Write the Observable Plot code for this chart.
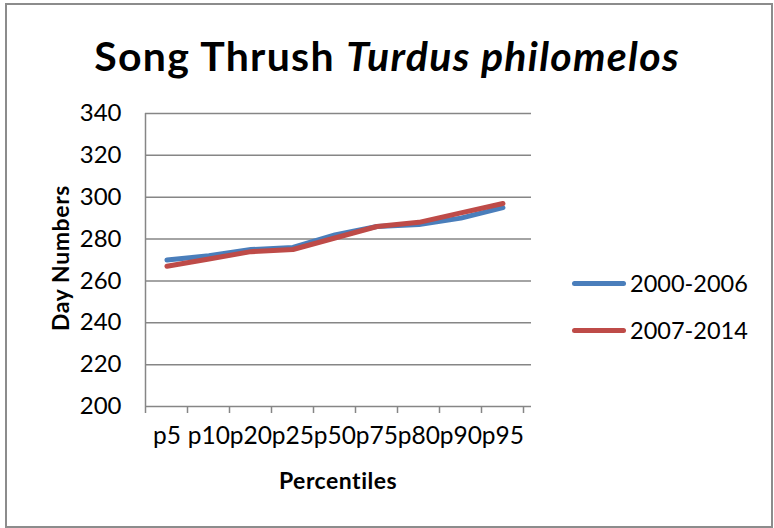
<!DOCTYPE html>
<html>
<head>
<meta charset="utf-8">
<script src="https://cdn.jsdelivr.net/npm/d3@7"></script>
<script src="https://cdn.jsdelivr.net/npm/@observablehq/plot@0.6"></script>
<style>
  html, body { margin: 0; padding: 0; background: #fff; }
  #wrap { position: relative; width: 774px; height: 528px; font-family: Lato, "Open Sans", sans-serif; color: #000; }
  #frame { position: absolute; left: 5px; top: 3px; width: 764px; height: 521px; border: 2px solid #8c8c8c; box-sizing: content-box; }
  #title { position: absolute; left: 0; width: 774px; top: 56px; transform: translateY(-50%); text-align: center; font-weight: bold; font-size: 41px; letter-spacing: 1.3px; line-height: 48px; white-space: nowrap; }
  #ytitle { position: absolute; left: 60px; top: 258px; transform: translate(-50%, -50%) rotate(-90deg); font-weight: bold; font-size: 23px; letter-spacing: 0.6px; white-space: nowrap; }
  #xtitle { position: absolute; left: 338px; top: 480px; transform: translate(-50%, -50%); font-weight: bold; font-size: 23px; letter-spacing: 0.5px; white-space: nowrap; }
  .leg { position: absolute; left: 572px; display: flex; align-items: center; font-size: 23.5px; line-height: 28px; white-space: nowrap; }
  .leg span.sw { display: inline-block; width: 54px; height: 5px; border-radius: 3px; margin-right: 4px; }
  svg { position: absolute; left: 0; top: 0; }
</style>
</head>
<body>
<div id="wrap">
  <div id="frame"></div>
  <div id="title">Song Thrush <i>Turdus philomelos</i></div>
  <div id="ytitle">Day Numbers</div>
  <div id="xtitle">Percentiles</div>
</div>
<script>
const categories = ["p5", "p10", "p20", "p25", "p50", "p75", "p80", "p90", "p95"];
const seriesNames = ["2000-2006", "2007-2014"];
const values2000_2006 = [270, 272, 275, 276, 282, 286, 287, 290, 295];
const values2007_2014 = [267, 270.5, 274, 275, 280.5, 286, 288, 292.5, 297];
const seriesColors = ["#4a7ebb", "#be4b48"];
const yTicks = [200, 220, 240, 260, 280, 300, 320, 340];

const data = [];
[values2000_2006, values2007_2014].forEach((vals, si) => {
  vals.forEach((v, i) => data.push({series: seriesNames[si], cat: categories[i], value: v}));
});

const W = 774, H = 528;
const mL = 145, mR = 243, mT = 113, mB = 122;
const step = (W - mL - mR) / categories.length;
const boundaries = categories.concat(["__end"]);

const chart = Plot.plot({
  width: W, height: H,
  marginLeft: mL, marginRight: mR, marginTop: mT, marginBottom: mB,
  style: {fontFamily: "Lato, 'Open Sans', sans-serif", background: "transparent"},
  x: {type: "point", domain: boundaries, padding: 0, align: 0, axis: null},
  y: {domain: [200, 340], axis: null},
  color: {domain: seriesNames, range: seriesColors},
  marks: [
    Plot.ruleY(yTicks, {stroke: "#868686", strokeWidth: 1.5}),
    Plot.ruleY(yTicks, {x1: categories[0], x2: categories[0], insetLeft: -6, stroke: "#868686", strokeWidth: 1.5}),
    Plot.ruleX([categories[0]], {stroke: "#868686", strokeWidth: 1.5}),
    Plot.ruleX(boundaries, {y1: 200, y2: 200, insetBottom: -7, stroke: "#868686", strokeWidth: 1.5}),
    Plot.text(yTicks, {y: d => d, frameAnchor: "left", dx: -24, textAnchor: "end", text: d => String(d), fontSize: 24, fill: "#000"}),
    Plot.text(categories, {x: d => d, dx: step / 2, frameAnchor: "bottom", dy: 37, text: d => d, fontSize: 24.5, fill: "#000"}),
    Plot.line(data, {x: "cat", y: "value", z: "series", stroke: "series", dx: step / 2, strokeWidth: 5, strokeLinecap: "round", strokeLinejoin: "round"})
  ]
});
document.getElementById("wrap").appendChild(chart);

const legY = [283, 330];
seriesNames.forEach((name, i) => {
  const d = document.createElement("div");
  d.className = "leg";
  d.style.top = (legY[i] - 14) + "px";
  d.innerHTML = `<span class="sw" style="background:${seriesColors[i]}"></span><span>${name}</span>`;
  document.getElementById("wrap").appendChild(d);
});
</script>
</body>
</html>
